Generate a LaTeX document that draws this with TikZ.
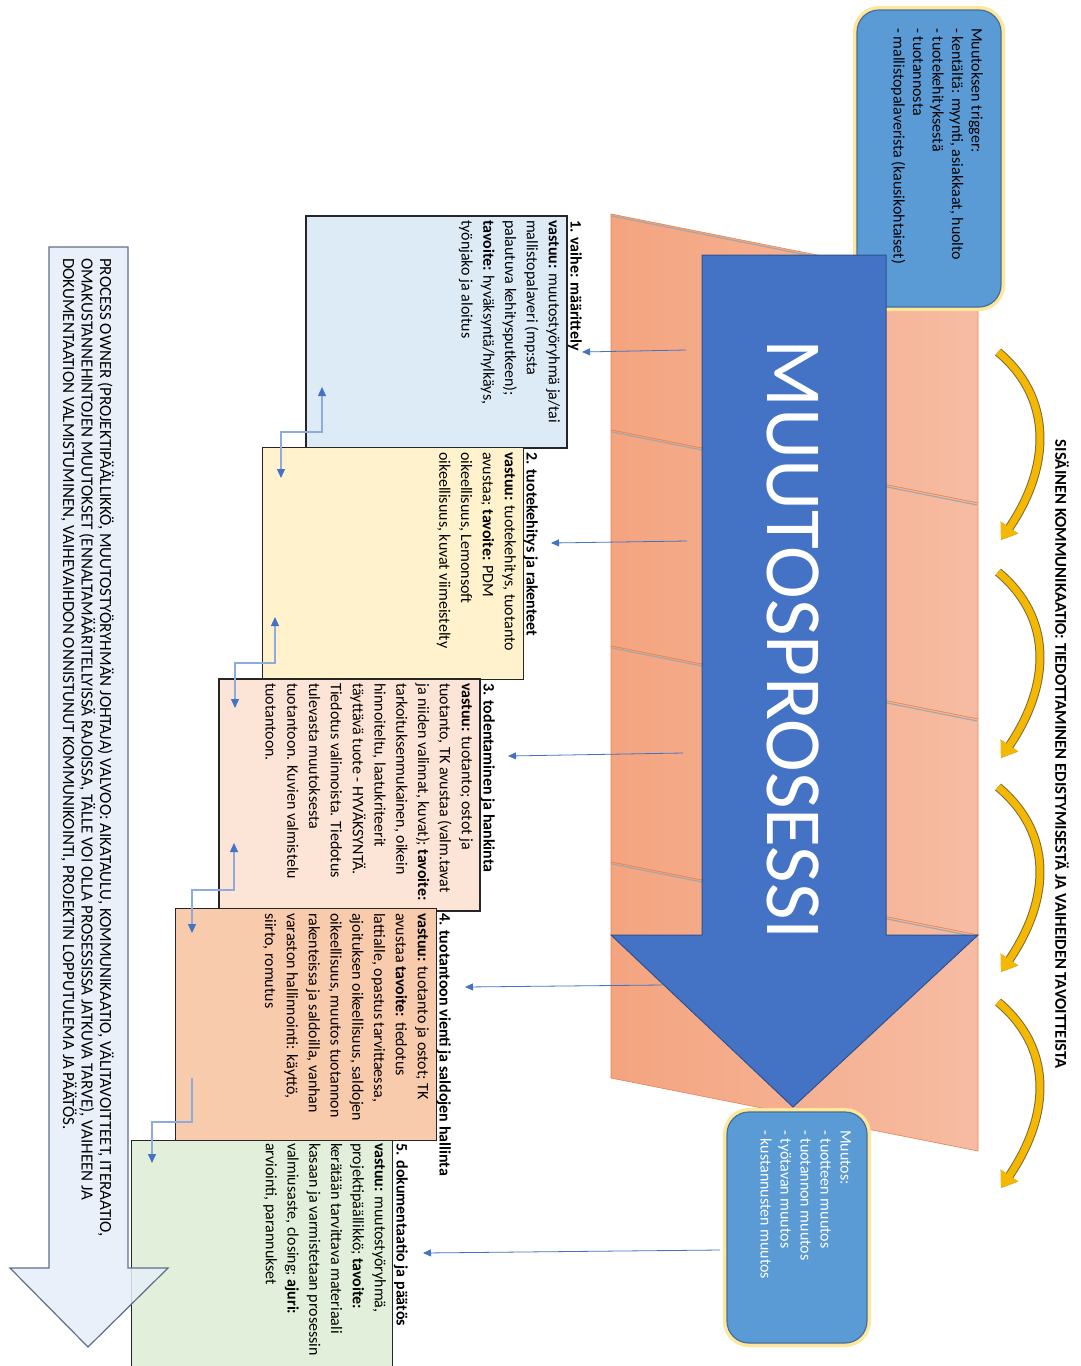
\documentclass[tikz,border=0pt]{standalone}
\usepackage{fontspec}
\setmainfont{Carlito}
\usetikzlibrary{arrows.meta}
\definecolor{orL}{HTML}{F4A47F}
\definecolor{orR}{HTML}{F6BCA3}
\definecolor{orEdge}{HTML}{E8834F}
\definecolor{bigblue}{HTML}{4472C4}
\definecolor{bigedge}{HTML}{2F528F}
\definecolor{boxblue}{HTML}{5B9BD5}
\definecolor{boxedge}{HTML}{41719C}
\definecolor{glow}{HTML}{FFE699}
\definecolor{sOne}{HTML}{DDEBF7}
\definecolor{sTwo}{HTML}{FFF2CC}
\definecolor{sThree}{HTML}{FCE4D6}
\definecolor{sFour}{HTML}{F8CBAD}
\definecolor{sFive}{HTML}{E2EFDA}
\definecolor{lbfill}{HTML}{E6EEF8}
\definecolor{lbedge}{HTML}{5F6F8A}
\definecolor{connline}{HTML}{8FAADC}
\definecolor{conntip}{HTML}{4472C4}
\definecolor{goldin}{HTML}{F5B800}
\definecolor{goldout}{HTML}{7A6A3A}
\tikzset{
  stagebox/.style={draw=black!85, line width=1.6pt, minimum width=261pt, minimum height=232pt, anchor=north west, inner sep=0pt},
  stagetext/.style={rotate=-90, anchor=north west, inner sep=0pt, align=left, font=\fontsize{16}{21.8}\selectfont},
  roundbox/.style={fill=boxblue, draw=boxedge, line width=1.2pt, rounded corners=22pt, preaction={draw=glow, line width=8pt, rounded corners=22pt}},
  band/.style={left color=orL, right color=orR, draw=orEdge, line width=0.6pt},
  hconn/.style={draw=conntip, line width=0.8pt, -{Triangle[width=7pt,length=8pt]}},
  elbow/.style={draw=connline, line width=1.2pt},
  bluetip/.tip={Triangle[width=8pt,length=9pt,color=conntip]},
  goldarrow/.style={line width=7pt, -{Triangle[width=20pt,length=15pt]}},
}
\begin{document}
\begin{tikzpicture}[x=1pt,y=-1pt]
\useasboundingbox (0,0) rectangle (1081,1366);
\fill[white] (0,0) rectangle (1081,1366);

% orange bands
\foreach \k in {0,1,2,3}{
  \path[band] (611,{214+216*\k}) -- (978,{287+216*\k}) -- (978,{503+216*\k}) -- (611,{430+216*\k}) -- cycle;
  \draw[black!35, line width=1.2pt] (612,{216+216*\k}) -- (977,{289+216*\k});
}

% trigger box
\path[roundbox] (857,10) rectangle (1001,307);
\node[rotate=-90, anchor=north west, inner sep=0pt, align=left, font=\fontsize{16}{19.5}\selectfont] (trigger) at (983,28)
{Muutoksen trigger:\\- kentältä: myynti, asiakkaat, huolto\\- tuotekehityksestä\\- tuotannosta\\- mallistopalaverista (kausikohtaiset)};

% big blue arrow
\draw[fill=bigblue, draw=bigedge, line width=1pt] (702,255) -- (886,255) -- (886,935) -- (978,935) -- (793,1107) -- (611,935) -- (702,935) -- cycle;
\node[rotate=-90, inner sep=0pt, text=white] (mp) at (793,640) {\resizebox{600pt}{!}{\fontsize{80}{80}\selectfont MUUTOSPROSESSI}};

% muutos box
\path[roundbox] (727,1112) rectangle (867,1343);
\node[rotate=-90, anchor=north west, inner sep=0pt, align=left, text=white, font=\fontsize{16}{20}\selectfont] (muutos) at (851,1130)
{Muutos:\\- tuotteen muutos\\- tuotannon muutos\\- työtavan muutos\\- kustannusten muutos};

% yellow curved arrows
\foreach \t/\b [count=\i] in {352/550, 572/768, 787/982, 1002/1198}{
  \coordinate (ys\i) at (998,\t);
  \coordinate (ye\i) at (1001,{\b-10});
  \draw[goldarrow, goldout, line width=9pt] (ys\i) .. controls (1052,{\t+45}) and (1052,{\b-85}) .. (ye\i);
  \draw[goldarrow, goldin] (ys\i) .. controls (1052,{\t+45}) and (1052,{\b-85}) .. (ye\i);
}
\node[rotate=-90, inner sep=0pt] (sisainen) at (1062,754) {\resizebox{628pt}{!}{\fontsize{15}{15}\selectfont\bfseries SISÄINEN KOMMUNIKAATIO: TIEDOTTAMINEN EDISTYMISESTÄ JA VAIHEIDEN TAVOITTEISTA}};

% stage boxes
\node[stagebox, fill=sOne] (box1) at (305,215) {};
\node[stagebox, fill=sTwo, line width=1.1pt] (box2) at (262,447) {};
\node[stagebox, fill=sThree] (box3) at (218,678) {};
\node[stagebox, fill=sFour, line width=1.1pt] (box4) at (175,908) {};
\node[stagebox, fill=sFive, line width=1.1pt, minimum height=240pt] (box5) at (131,1140) {};

\node[stagetext] (t1) at (582,220)
{\textbf{1. vaihe: määrittely}\\\textbf{vastuu:} muutostyöryhmä ja/tai\\mallistopalaveri (mp:sta\\palautuva kehitysputkeen);\\\textbf{tavoite:} hyväksyntä/hylkäys,\\työnjako ja aloitus};
\node[stagetext] (t2) at (538,452)
{\textbf{2. tuotekehitys ja rakenteet}\\\textbf{vastuu:} tuotekehitys, tuotanto\\avustaa; \textbf{tavoite:} PDM\\oikeellisuus, Lemonsoft\\oikeellisuus, kuvat viimeistelty};
\node[stagetext] (t3) at (495,683)
{\textbf{3. todentaminen ja hankinta}\\\textbf{vastuu:} tuotanto; ostot ja\\tuotanto, TK avustaa (valm.tavat\\ja niiden valinnat, kuvat); \textbf{tavoite:}\\tarkoituksenmukainen, oikein\\hinnoiteltu, laatukriteerit\\täyttävä tuote - HYVÄKSYNTÄ.\\Tiedotus valinnoista. Tiedotus\\tulevasta muutoksesta\\tuotantoon. Kuvien valmistelu\\tuotantoon.};
\node[stagetext] (t4) at (451,913)
{\textbf{4. tuotantoon vienti ja saldojen hallinta}\\\textbf{vastuu:} tuotanto ja ostot; TK\\avustaa \textbf{tavoite:} tiedotus\\lattialle, opastus tarvittaessa,\\ajoituksen oikeellisuus, saldojen\\oikeellisuus, muutos tuotannon\\rakenteissa ja saldoilla, vanhan\\varaston hallinnointi: käyttö,\\siirto, romutus};
\node[stagetext] (t5) at (408,1143)
{\textbf{5. dokumentaatio ja päätös}\\\textbf{vastuu:} muutostyöryhmä,\\projektipäällikkö; \textbf{tavoite:}\\kerätään tarvittava materiaali\\kasaan ja varmistetaan prosessin\\valmiusaste, closing; \textbf{ajuri:}\\arviointi, parannukset};

% elbow connectors between stages
\coordinate (e1a) at (322,387); \coordinate (e1b) at (281,478);
\coordinate (e2a) at (275,617); \coordinate (e2b) at (235,708);
\coordinate (e3a) at (234,843); \coordinate (e3b) at (192,933);
\coordinate (e4a) at (192,1078); \coordinate (e4b) at (152,1163);
\draw[elbow, bluetip-bluetip] (e1a) -- ++(0,45) -| (e1b);
\draw[elbow, bluetip-bluetip] (e2a) -- ++(0,46) -| (e2b);
\draw[elbow, bluetip-bluetip] (e3a) -- ++(0,47) -| (e3b);
\draw[elbow, -bluetip] (e4a) -- ++(0,44) -| (e4b);

% horizontal arrows to stage titles
\coordinate (h1s) at (686,350); \coordinate (h1e) at (582,352);
\coordinate (h2s) at (687,541); \coordinate (h2e) at (551,543);
\coordinate (h3s) at (683,753); \coordinate (h3e) at (508,756);
\coordinate (h4s) at (662,985); \coordinate (h4e) at (465,987);
\coordinate (h5s) at (720,1250); \coordinate (h5e) at (423,1253);
\foreach \i in {1,...,5}{\draw[hconn] (h\i s) -- (h\i e);}

% bottom-left process owner arrow
\draw[fill=lbfill, fill opacity=0.85, draw=lbedge, line width=1.2pt] (49,247) -- (128,247) -- (128,1268) -- (168,1268) -- (88,1347) -- (10,1268) -- (49,1268) -- cycle;
\node[rotate=-90, anchor=north west, inner sep=0pt, align=left, font=\fontsize{17}{18.5}\selectfont] (owner) at (114,258)
{PROCESS OWNER (PROJEKTIPÄÄLLIKKÖ, MUUTOSTYÖRYHMÄN JOHTAJA) VALVOO: AIKATAULU, KOMMUNIKAATIO, VÄLITAVOITTEET, ITERAATIO,\\OMAKUSTANNEHINTOJEN MUUTOKSET (ENNALTAMÄÄRITELLYISSÄ RAJOISSA, TÄLLE VOI OLLA PROSESSISSA JATKUVA TARVE), VAIHEEN JA\\DOKUMENTAATION VALMISTUMINEN, VAIHEVAIHDON ONNISTUNUT KOMMUNIKOINTI, PROJEKTIN LOPPUTULEMA JA PÄÄTÖS.};
\end{tikzpicture}
\end{document}
